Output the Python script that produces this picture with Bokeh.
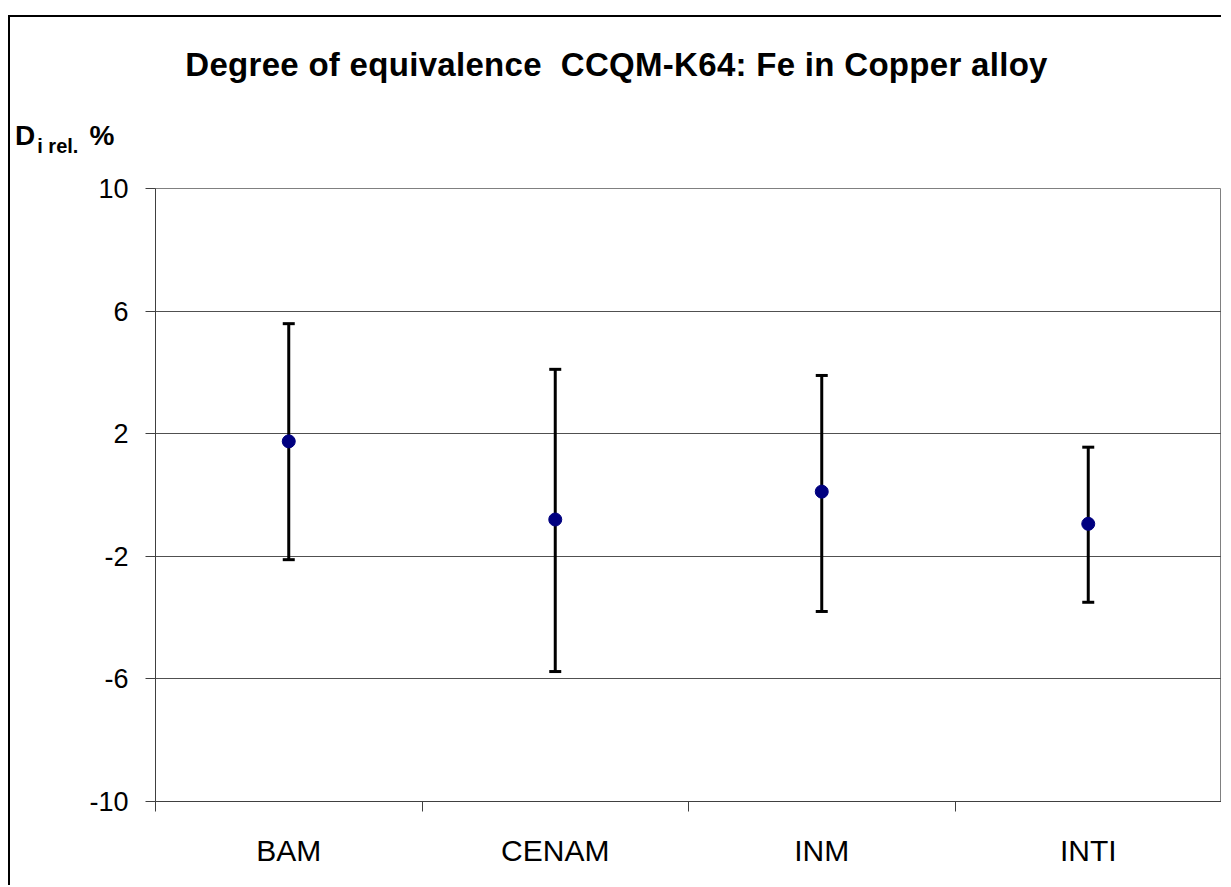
from bokeh.plotting import figure
from bokeh.layouts import column
from bokeh.models import (ColumnDataSource, FixedTicker, Whisker, TeeHead, Range1d, Div)
from bokeh.embed import file_html
from bokeh.resources import INLINE

categories = ["BAM", "CENAM", "INM", "INTI"]
d_rel = [1.75, -0.8, 0.11, -0.94]
upper = [5.59, 4.1, 3.9, 1.56]
lower = [-2.11, -5.76, -3.8, -3.5]
y_ticks = [-10, -6, -2, 2, 6, 10]
title_text = "Degree of equivalence&nbsp; CCQM-K64: Fe in Copper alloy"

xs = [i + 0.5 for i in range(len(categories))]
src = ColumnDataSource(dict(x=xs, y=d_rel, upper=upper, lower=lower))

p = figure(width=1213, height=717, output_backend="svg", toolbar_location=None,
           x_range=Range1d(0, len(categories)), y_range=Range1d(-10, 10),
           min_border_left=145, min_border_right=0, min_border_top=20, min_border_bottom=84,
           margin=0)
p.background_fill_color = "white"
p.border_fill_color = "white"
p.outline_line_color = "#808080"
p.outline_line_width = 1

# x axis
xa = p.xaxis[0]
xa.ticker = FixedTicker(ticks=xs, minor_ticks=list(range(len(categories) + 1)))
xa.major_label_overrides = {x: c for x, c in zip(xs, categories)}
xa.major_tick_out = 0
xa.major_tick_in = 0
xa.minor_tick_out = 10
xa.minor_tick_in = 0
xa.minor_tick_line_color = "#404040"
xa.axis_line_color = "#404040"
xa.major_label_text_font = "Liberation Sans"
xa.major_label_text_font_size = "30px"
xa.major_label_text_color = "black"
xa.major_label_standoff = 22

# y axis
ya = p.yaxis[0]
ya.ticker = FixedTicker(ticks=y_ticks)
ya.major_label_overrides = {t: str(t) for t in y_ticks}
ya.major_tick_out = 10
ya.major_tick_in = 0
ya.minor_tick_out = 0
ya.minor_tick_in = 0
ya.major_tick_line_color = "#404040"
ya.axis_line_color = "#404040"
ya.major_label_text_font = "Liberation Sans"
ya.major_label_text_font_size = "27px"
ya.major_label_text_color = "black"
ya.major_label_standoff = 17

p.xgrid.grid_line_color = None
p.ygrid.ticker = FixedTicker(ticks=y_ticks)
p.ygrid.grid_line_color = "#505050"
p.ygrid.grid_line_width = 1

w = Whisker(source=src, base="x", upper="upper", lower="lower", dimension="height",
            line_color="black", line_width=3,
            upper_head=TeeHead(size=12, line_color="black", line_width=3),
            lower_head=TeeHead(size=12, line_color="black", line_width=3))
p.add_layout(w)
p.scatter("x", "y", source=src, size=13, fill_color="#000080", line_color="#000080")

header_html = (
    '<div style="position:relative;width:1213px;height:151px;'
    'font-family:\'Liberation Sans\',Arial,sans-serif;font-weight:bold;color:black;">'
    '<div style="position:absolute;left:0;top:31px;width:1213px;text-align:center;'
    'font-size:33px;line-height:33px;white-space:nowrap;letter-spacing:0.3px;">' + title_text + '</div>'
    '<div style="position:absolute;left:5px;top:105px;font-size:28px;line-height:28px;white-space:nowrap;">'
    'D<span style="font-size:20px;position:relative;top:8px;margin-left:2px;">i rel.</span>'
    '<span style="margin-left:11px;font-size:28px;">%</span></div>'
    '</div>'
)
header = Div(text=header_html, width=1213, height=151, margin=0)

layout = column(header, p, spacing=0, margin=(15, 0, 0, 8), width=1213,
                styles={"border-top": "2px solid black", "border-left": "2px solid black"})

open("out.html", "w").write(file_html(layout, INLINE))
